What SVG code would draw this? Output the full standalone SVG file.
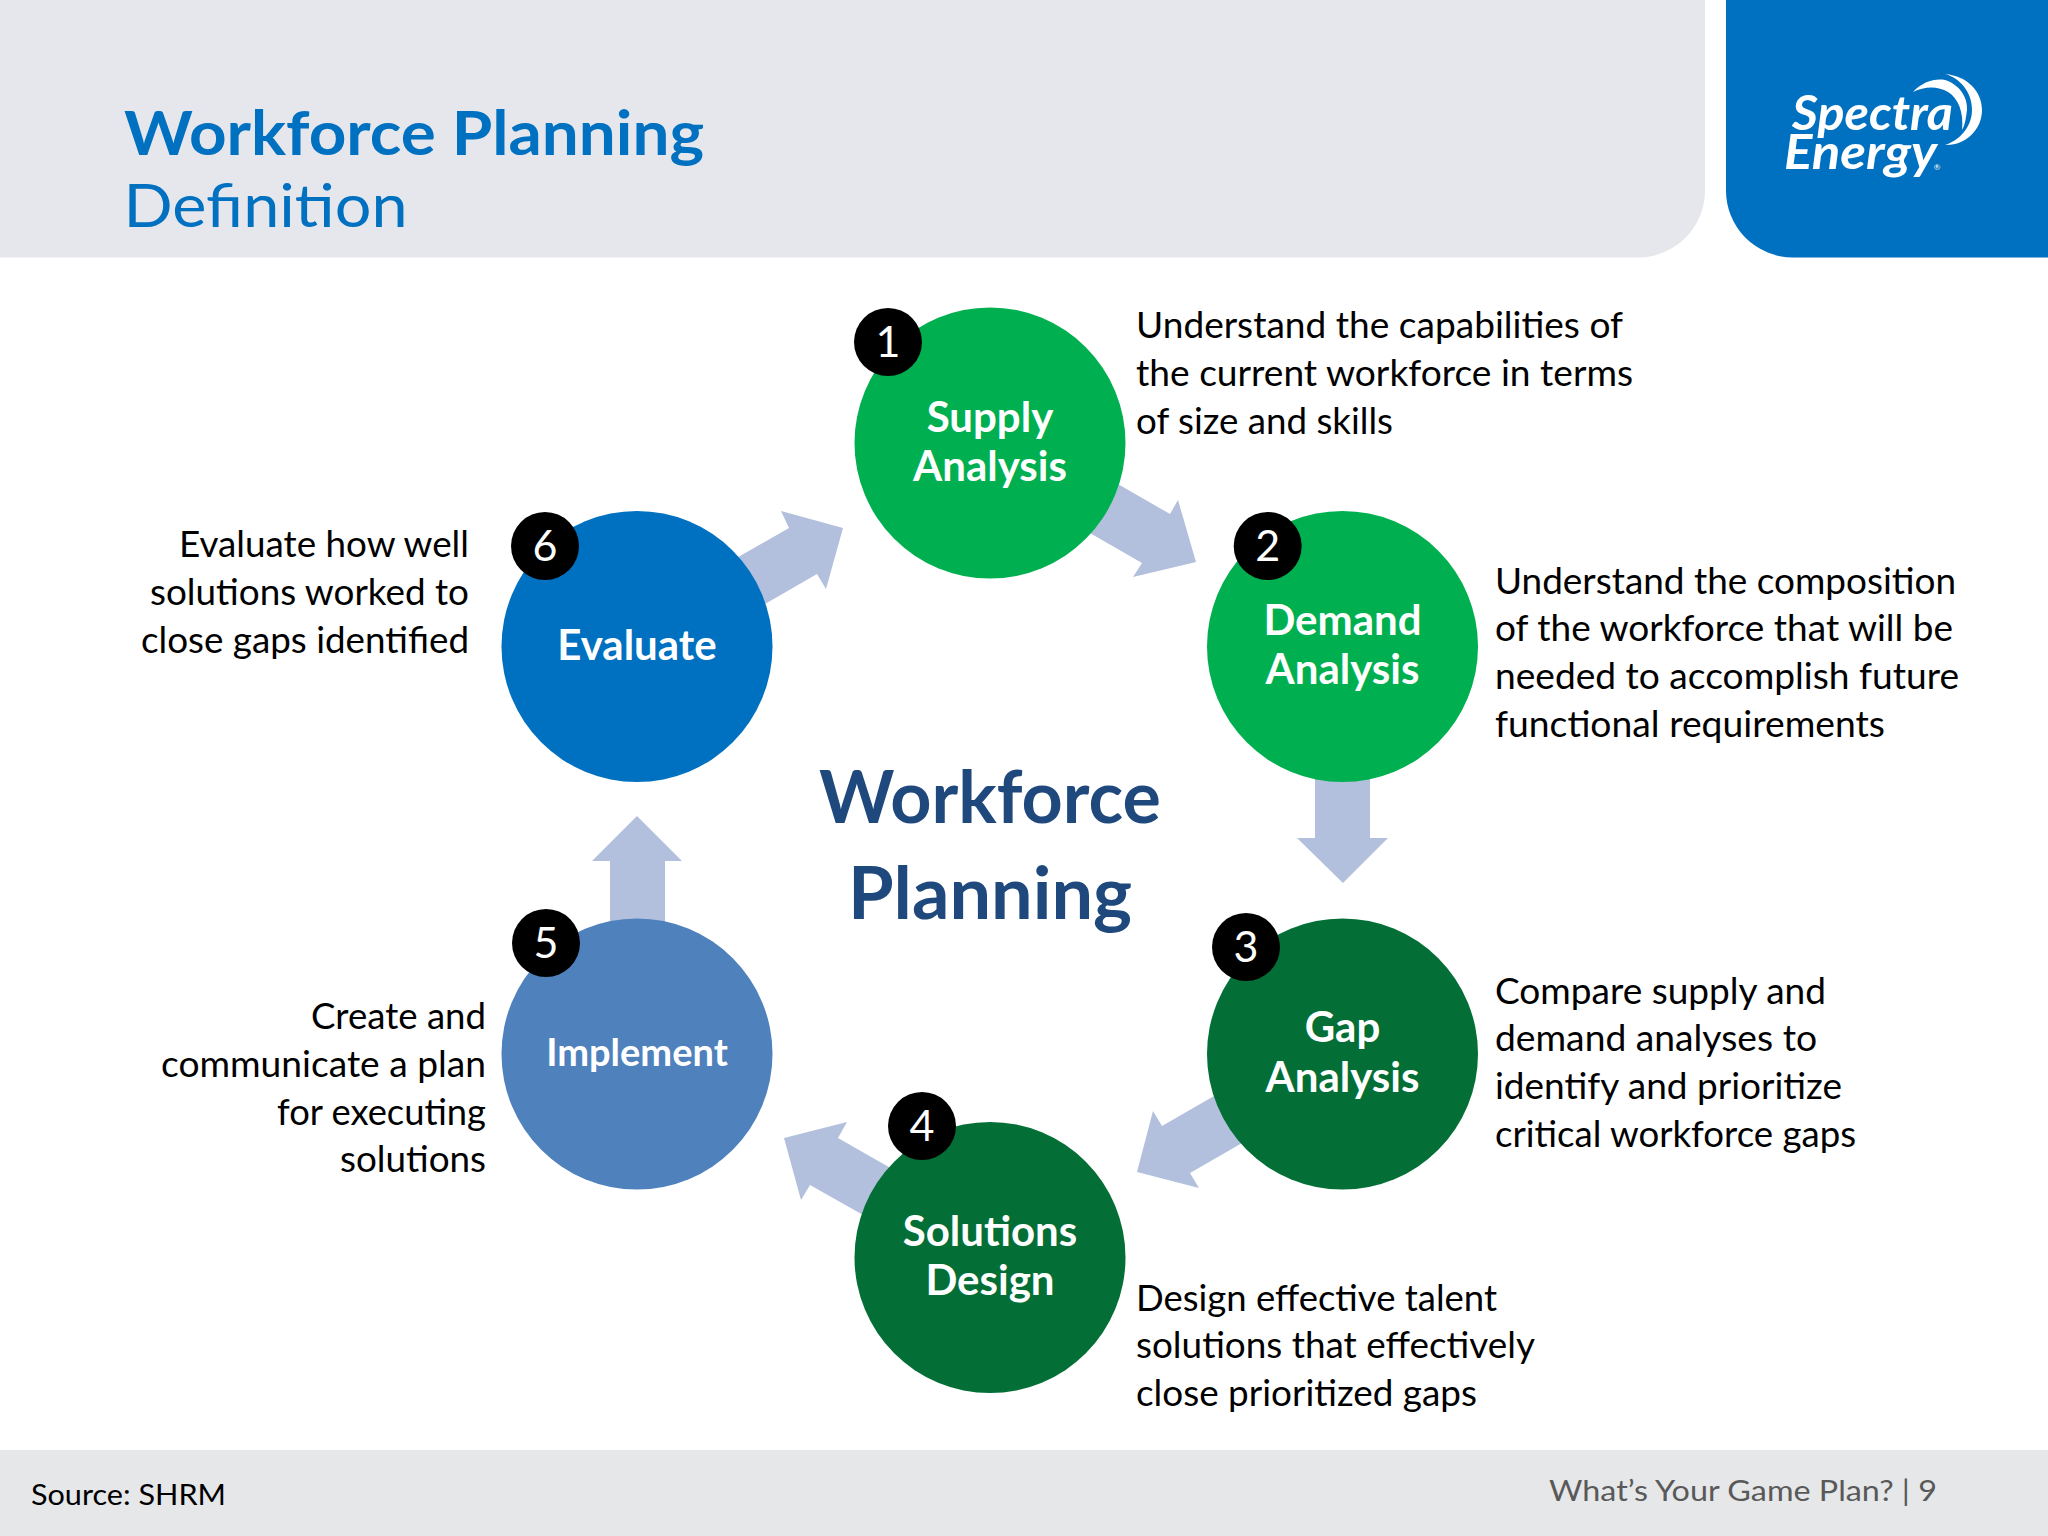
<svg xmlns="http://www.w3.org/2000/svg" width="2048" height="1536" viewBox="0 0 2048 1536">
<style>
text{font-family:"Lato","Open Sans","Liberation Sans",sans-serif}
.d{font-size:36px;fill:#000}
.e{text-anchor:end}
.l{font-size:42px;font-weight:700;fill:#fff;text-anchor:middle}
.b{fill:#000}
.n{font-size:43px;fill:#fff;text-anchor:middle}
.c{fill:#0070C0}
.lg{fill:#00B050}
.dg{fill:#036F36}
.im{fill:#4F81BD}
.a{fill:#B2C0DD}
.t{font-size:72px;font-weight:700;fill:#1F497D;text-anchor:middle}
</style>
<rect width="2048" height="1536" fill="#fff"/>
<g id="header">
<path d="M0 0H1705V190A67 67 0 0 1 1638 257.500H0Z" fill="#E5E7EC"/>
<path d="M1726 0H2048V257.500H1793A67 67 0 0 1 1726 190Z" fill="#0070C0"/>
<text x="124" y="155" font-size="62" font-weight="700" fill="#0070C0" textLength="580" lengthAdjust="spacingAndGlyphs">Workforce Planning</text>
<text x="123.500" y="227" font-size="60" fill="#0070C0" textLength="284" lengthAdjust="spacingAndGlyphs">Definition</text>
</g>
<g id="logo">
<text x="1792" y="130" font-size="48" font-weight="700" font-style="italic" fill="#fff" textLength="161" lengthAdjust="spacingAndGlyphs">Spectra</text>
<text x="1784" y="169" font-size="48" font-weight="700" font-style="italic" fill="#fff" textLength="153" lengthAdjust="spacingAndGlyphs">Energy</text>
<text x="1937" y="170" font-size="8" fill="#fff" text-anchor="middle">®</text>
<path d="M1945 74C1968 76 1982 92 1982 110C1982 130 1965 146 1945 145C1958 141 1972 128 1972 110C1972 92 1960 78 1945 74Z" fill="#fff"/>
<path d="M1913 92C1922 82 1935 78 1945 80C1958 84 1968 96 1967 110C1966 118 1965 125 1962 130C1964 112 1958 98 1948 92C1938 86 1925 86 1913 92Z" fill="#fff"/>
</g>
<g id="connectors">
<polygon class="a" points="1090,468 1170,514 1178,500 1196,562 1133,577 1142,563 1062,517"/>
<polygon class="a" points="1315,760 1370,760 1370,838 1388,838 1343,883 1297,838 1315,838"/>
<polygon class="a" points="1247,1077 1162,1126 1153,1111 1137,1172 1199,1188 1190,1173 1275,1124"/>
<polygon class="a" points="922,1186 838,1138 847,1122 784,1138 801,1200 810,1185 895,1233"/>
<polygon class="a" points="610,950 610,861 592,861 637,816 682,861 665,861 665,950"/>
<polygon class="a" points="705,576 789,528 781,511 843,528 826,589 817,574 732,623"/>
</g>
<g id="center-label">
<text class="t" x="990" y="823" textLength="342" lengthAdjust="spacingAndGlyphs">Workforce</text>
<text class="t" x="990" y="919" textLength="284" lengthAdjust="spacingAndGlyphs">Planning</text>
</g>
<g id="node-1">
<circle class="lg" cx="990" cy="443" r="135.500"/>
<circle class="b" cx="888" cy="342" r="34"/>
<text class="n" x="888" y="357">1</text>
<text class="l" x="990" y="432">Supply</text>
<text class="l" x="990" y="481">Analysis</text>
<text class="d" x="1136" y="338" textLength="487" lengthAdjust="spacingAndGlyphs">Understand the capabilities of</text>
<text class="d" x="1136" y="386" textLength="497" lengthAdjust="spacingAndGlyphs">the current workforce in terms</text>
<text class="d" x="1136" y="434" textLength="257" lengthAdjust="spacingAndGlyphs">of size and skills</text>
</g>
<g id="node-2">
<circle class="lg" cx="1342.500" cy="646.500" r="135.500"/>
<circle class="b" cx="1267.700" cy="546" r="34"/>
<text class="n" x="1267.700" y="561">2</text>
<text class="l" x="1342.500" y="635">Demand</text>
<text class="l" x="1342.500" y="684">Analysis</text>
<text class="d" x="1495" y="594" textLength="461" lengthAdjust="spacingAndGlyphs">Understand the composition</text>
<text class="d" x="1495" y="641" textLength="458" lengthAdjust="spacingAndGlyphs">of the workforce that will be</text>
<text class="d" x="1495" y="689" textLength="464" lengthAdjust="spacingAndGlyphs">needed to accomplish future</text>
<text class="d" x="1495" y="737" textLength="390" lengthAdjust="spacingAndGlyphs">functional requirements</text>
</g>
<g id="node-3">
<circle class="dg" cx="1342.500" cy="1054" r="135.500"/>
<circle class="b" cx="1246" cy="947" r="34"/>
<text class="n" x="1246" y="962">3</text>
<text class="l" x="1342.500" y="1042">Gap</text>
<text class="l" x="1342.500" y="1092">Analysis</text>
<text class="d" x="1495" y="1004" textLength="331" lengthAdjust="spacingAndGlyphs">Compare supply and</text>
<text class="d" x="1495" y="1051" textLength="322" lengthAdjust="spacingAndGlyphs">demand analyses to</text>
<text class="d" x="1495" y="1099" textLength="347" lengthAdjust="spacingAndGlyphs">identify and prioritize</text>
<text class="d" x="1495" y="1147" textLength="361" lengthAdjust="spacingAndGlyphs">critical workforce gaps</text>
</g>
<g id="node-4">
<circle class="dg" cx="990" cy="1257.500" r="135.500"/>
<circle class="b" cx="922" cy="1126" r="34"/>
<text class="n" x="922" y="1141">4</text>
<text class="l" x="990" y="1246">Solutions</text>
<text class="l" x="990" y="1295">Design</text>
<text class="d" x="1136" y="1311" textLength="361" lengthAdjust="spacingAndGlyphs">Design effective talent</text>
<text class="d" x="1136" y="1358" textLength="399" lengthAdjust="spacingAndGlyphs">solutions that effectively</text>
<text class="d" x="1136" y="1406" textLength="341" lengthAdjust="spacingAndGlyphs">close prioritized gaps</text>
</g>
<g id="node-5">
<circle class="im" cx="637" cy="1054" r="135.500"/>
<circle class="b" cx="546" cy="943" r="34"/>
<text class="n" x="546" y="958">5</text>
<text class="l" x="637" y="1066" style="font-size:38px">Implement</text>
<text class="d e" x="486" y="1029" textLength="175" lengthAdjust="spacingAndGlyphs">Create and</text>
<text class="d e" x="486" y="1077" textLength="325" lengthAdjust="spacingAndGlyphs">communicate a plan</text>
<text class="d e" x="486" y="1125" textLength="209" lengthAdjust="spacingAndGlyphs">for executing</text>
<text class="d e" x="486" y="1172" textLength="146" lengthAdjust="spacingAndGlyphs">solutions</text>
</g>
<g id="node-6">
<circle class="c" cx="637" cy="646.500" r="135.500"/>
<circle class="b" cx="545" cy="546" r="34"/>
<text class="n" x="545" y="561">6</text>
<text class="l" x="637" y="660">Evaluate</text>
<text class="d e" x="469" y="557" textLength="290" lengthAdjust="spacingAndGlyphs">Evaluate how well</text>
<text class="d e" x="469" y="605" textLength="319" lengthAdjust="spacingAndGlyphs">solutions worked to</text>
<text class="d e" x="469" y="653" textLength="328" lengthAdjust="spacingAndGlyphs">close gaps identified</text>
</g>
<g id="footer">
<rect y="1450" width="2048" height="86" fill="#E6E7E9"/>
<text x="31" y="1505" font-size="29" fill="#000" textLength="195" lengthAdjust="spacingAndGlyphs">Source: SHRM</text>
<text x="1549" y="1501" font-size="29" fill="#595959" textLength="388" lengthAdjust="spacingAndGlyphs">What’s Your Game Plan? | 9</text>
</g>
</svg>
